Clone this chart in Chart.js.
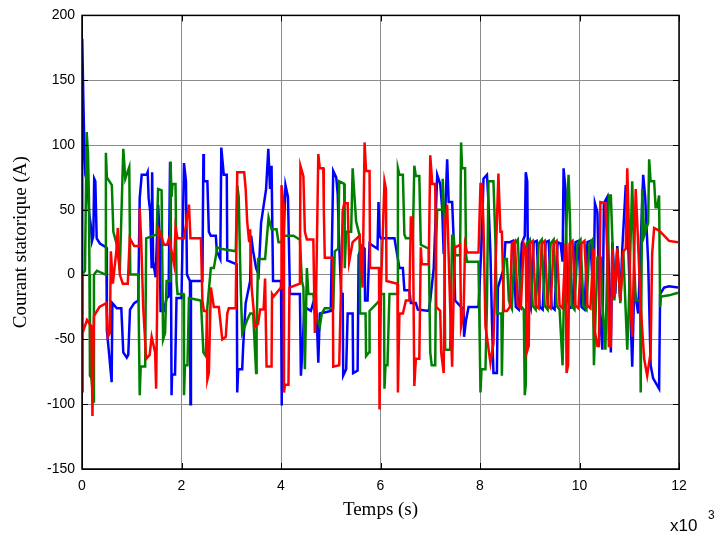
<!DOCTYPE html>
<html>
<head>
<meta charset="utf-8">
<script src="https://cdn.jsdelivr.net/npm/chart.js@4.4.1/dist/chart.umd.min.js"></script>
<style>
    html, body { margin: 0; padding: 0; background: #fff; }
    #wrap { width: 723px; height: 539px; }
</style>
</head>
<body>
<div id="wrap"><canvas id="chart" width="723" height="539"></canvas></div>
<script>
// time axis in seconds, shown as x10^3
const xTicks = [0, 2000, 4000, 6000, 8000, 10000, 12000];
const yTicks = [-150, -100, -50, 0, 50, 100, 150, 200];

// phase currents (A)
const blueTime = [0, 5, 27, 47, 67, 107, 147, 174, 201, 228, 245, 268, 295, 360, 490, 500, 549, 596, 610, 700, 790, 830, 900, 930, 965, 1050, 1130, 1160, 1200, 1300, 1320, 1340, 1370, 1400, 1410, 1430, 1480, 1530, 1560, 1580, 1650, 1700, 1740, 1770, 1780, 1800, 1810, 1870, 1900, 2000, 2050, 2090, 2110, 2170, 2180, 2190, 2420, 2440, 2450, 2520, 2550, 2590, 2690, 2710, 2780, 2800, 2850, 2910, 2920, 3110, 3120, 3140, 3220, 3240, 3290, 3380, 3400, 3440, 3500, 3550, 3600, 3700, 3745, 3780, 3810, 3840, 4000, 4010, 4020, 4090, 4140, 4180, 4380, 4400, 4430, 4470, 4600, 4700, 4750, 4780, 5000, 5050, 5110, 5140, 5160, 5210, 5240, 5250, 5310, 5340, 5440, 5450, 5540, 5560, 5620, 5680, 5690, 5740, 5780, 5940, 5960, 5980, 6010, 6280, 6380, 6450, 6480, 6580, 6610, 6710, 6750, 6970, 7000, 7070, 7140, 7200, 7240, 7270, 7340, 7370, 7440, 7470, 7500, 7670, 7680, 7720, 7770, 7970, 8040, 8070, 8140, 8170, 8210, 8240, 8270, 8340, 8360, 8480, 8510, 8600, 8660, 8720, 8780, 8840, 8900, 8920, 8950, 8970, 9020, 9080, 9140, 9200, 9260, 9320, 9380, 9440, 9500, 9560, 9620, 9660, 9680, 9720, 9750, 9800, 9860, 9920, 9980, 10040, 10100, 10160, 10220, 10280, 10310, 10360, 10400, 10460, 10490, 10560, 10600, 10630, 10660, 10720, 10760, 10820, 10860, 10930, 10960, 11060, 11100, 11180, 11280, 11320, 11380, 11430, 11480, 11600, 11620, 11700, 11800, 11980];
const blueCurrent = [0, 182, 135, 99, 77, 72, 46, 39, 26, 30, 74, 72, 28, 24, 21, -43, -63, -83, -22, -26, -26, -60, -64, -62, -27, -22, -20, 59, 77, 77, 79, 59, 49, 5, 79, 10, -2, 54, 30, -28, -28, -18, -17, 87, 80, -93, -77, -77, -18, -18, 86, 72, 0, -5, -100, -5, -5, 93, 72, 72, 33, 30, 30, 18, 12, 98, 77, 77, 11, 8, -91, -73, -73, -55, -22, -5, 30, 18, 5, 0, 40, 66, 97, 66, 84, -5, -5, -101, -10, 69, 60, -15, -15, -78, -59, -25, -28, -15, -68, -30, -28, 80, 75, 62, 33, -15, -15, -78, -73, -30, -30, -76, -74, 15, 22, 20, -20, -20, 24, 20, 56, 30, 28, 28, 5, 5, -12, -12, -22, -22, -27, -28, -20, 5, 77, 70, 51, 16, 89, 56, 56, 28, -20, -27, -48, -35, -25, -25, 31, 74, 77, 56, 16, -35, -76, -76, -10, 5, 25, 25, 26, -25, -27, 24, 30, 79, 72, -20, -26, 25, 26, -25, -27, 25, 26, -25, -27, 25, 24, 10, 82, 65, -15, -26, -25, 25, 26, -25, -27, 25, 26, -20, 55, 48, -25, -58, 55, 60, -20, -60, 25, -15, 22, -20, 20, 69, 46, -71, -10, -30, 77, 60, 10, -70, -80, -88, -15, -10, -9, -10];

const greenTime = [0, 60, 94, 120, 140, 150, 160, 190, 228, 240, 300, 470, 480, 500, 600, 630, 700, 760, 830, 870, 950, 970, 1130, 1160, 1180, 1270, 1290, 1500, 1530, 1600, 1630, 1670, 1700, 1770, 1780, 1800, 1820, 1880, 1900, 1920, 2040, 2050, 2070, 2120, 2150, 2390, 2440, 2490, 2520, 2590, 2650, 2720, 2790, 3090, 3120, 3150, 3190, 3220, 3320, 3380, 3440, 3500, 3510, 3540, 3680, 3750, 3810, 3910, 3950, 4010, 4050, 4250, 4380, 4420, 4450, 4480, 4520, 4550, 4650, 4680, 4780, 4820, 4880, 5050, 5080, 5150, 5170, 5270, 5280, 5310, 5410, 5440, 5510, 5580, 5590, 5700, 5710, 5770, 5780, 5980, 6010, 6070, 6080, 6100, 6140, 6180, 6340, 6350, 6380, 6450, 6480, 6510, 6650, 6680, 6710, 6780, 6810, 6970, 7000, 7030, 7100, 7120, 7140, 7240, 7250, 7280, 7300, 7400, 7440, 7470, 7500, 7600, 7620, 7640, 7700, 7720, 7740, 7970, 8010, 8030, 8110, 8140, 8170, 8270, 8310, 8340, 8430, 8440, 8480, 8540, 8580, 8640, 8700, 8760, 8820, 8880, 8900, 8920, 8940, 9000, 9060, 9120, 9180, 9240, 9300, 9360, 9420, 9480, 9540, 9600, 9660, 9680, 9720, 9760, 9780, 9810, 9840, 9900, 9960, 10020, 10080, 10140, 10200, 10260, 10290, 10360, 10430, 10460, 10520, 10590, 10630, 10660, 10700, 10760, 10820, 10880, 10960, 10990, 11060, 11100, 11130, 11220, 11230, 11260, 11300, 11380, 11400, 11430, 11500, 11530, 11560, 11600, 11620, 11640, 11800, 11980];
const greenCurrent = [0, 3, 110, 94, 59, 0, -78, -80, -98, 0, 3, 0, 94, 75, 69, 33, 23, 3, 97, 74, 83, 0, 0, -93, -71, -71, 28, 31, 66, 65, -50, -45, -5, -5, 87, 60, 70, 70, -5, -15, -15, -93, -70, -70, -18, -20, -60, -63, -25, 5, 5, 21, 20, 18, 69, 60, -10, -45, -35, -30, -30, -76, -40, 12, 12, 44, 35, 35, 25, 25, 30, 30, 27, -5, -10, -73, 5, -15, -15, -30, -40, -30, -26, -26, 18, 20, 72, 70, 5, 33, 33, 82, 41, 30, -30, -30, -63, -60, -28, -20, -15, -15, -88, -70, -70, -15, -15, 82, 77, 77, 31, 28, 28, 84, 76, 76, 23, 20, -60, -70, -70, 26, 50, 50, 74, 40, -58, -58, 30, 30, 15, 15, 102, 82, 82, 15, 10, 10, -91, -73, -73, -22, 72, 72, 26, -30, -30, -78, 12, 12, -20, -26, 24, 27, -24, -27, -93, -85, 24, 27, -24, -27, 24, 27, -24, -27, 24, 27, -24, -27, -70, -30, 24, 60, 77, 40, -24, -27, 24, 27, -24, -27, 24, 27, -70, 13, 13, -22, -58, 61, 61, 28, -20, 20, -22, 18, -58, -25, 72, 8, -20, -20, -91, 66, 30, 40, 89, 72, 72, 52, 52, 61, -25, -17, -16, -14];

const redTime = [0, 5, 20, 100, 190, 210, 240, 350, 490, 520, 560, 580, 620, 690, 720, 760, 820, 920, 960, 1050, 1150, 1160, 1190, 1230, 1290, 1360, 1400, 1470, 1490, 1530, 1590, 1650, 1710, 1750, 1850, 1880, 1920, 2050, 2150, 2180, 2390, 2420, 2450, 2510, 2520, 2550, 2590, 2650, 2750, 2820, 2890, 2920, 2950, 3090, 3120, 3260, 3290, 3320, 3360, 3380, 3410, 3480, 3540, 3580, 3650, 3680, 3710, 3810, 3820, 3850, 4000, 4010, 4050, 4060, 4080, 4150, 4170, 4380, 4390, 4450, 4480, 4520, 4650, 4680, 4700, 4750, 4780, 4850, 4860, 4880, 5040, 5050, 5170, 5210, 5240, 5270, 5340, 5370, 5440, 5580, 5640, 5680, 5710, 5780, 5790, 5970, 5980, 6010, 6080, 6110, 6120, 6340, 6350, 6380, 6450, 6510, 6580, 6610, 6650, 6680, 6710, 6780, 6810, 6830, 6970, 7000, 7040, 7100, 7120, 7200, 7220, 7270, 7300, 7340, 7400, 7440, 7470, 7500, 7600, 7620, 7670, 7700, 7740, 7970, 8010, 8040, 8070, 8110, 8210, 8270, 8310, 8370, 8410, 8440, 8480, 8540, 8600, 8640, 8700, 8760, 8820, 8880, 8920, 8940, 8980, 9000, 9060, 9120, 9180, 9240, 9300, 9360, 9420, 9480, 9540, 9600, 9660, 9720, 9740, 9770, 9800, 9860, 9920, 9980, 10040, 10100, 10160, 10220, 10280, 10290, 10360, 10390, 10420, 10520, 10560, 10590, 10630, 10660, 10700, 10760, 10820, 10880, 10930, 10960, 10990, 11030, 11060, 11130, 11160, 11230, 11300, 11360, 11430, 11460, 11500, 11600, 11700, 11800, 11980];
const redCurrent = [0, -91, -45, -35, -40, -109, -32, -25, -22, -48, -45, 18, -7, 18, 36, 0, -7, -7, 28, 22, 22, 51, 26, -25, -65, -62, -48, -60, -88, 36, 30, 23, 23, 28, 8, 36, 28, 28, 54, 28, 28, -20, -28, -28, -81, -76, -10, -25, -25, -50, -48, -30, -26, -26, 79, 79, 66, 41, 25, 35, -10, -40, -38, -27, -27, -3, -71, -71, -15, -17, -10, 69, 55, -91, -85, -85, -10, -7, 84, 76, 33, 27, 27, -45, -30, 93, 82, 82, 51, 13, 13, -71, -70, -5, 49, 55, 55, 10, 25, 30, -10, 102, 80, 80, 5, 5, -104, -10, 72, 66, -5, -7, -91, -30, -30, -20, -20, 44, 44, -86, -65, -65, 21, 8, 8, 92, 70, 70, -25, -28, -60, -76, 41, 54, -25, -71, -15, 21, 23, -40, -30, 23, 17, 17, 70, 70, 38, -40, -68, -53, 5, 78, 33, 33, -28, -28, -25, 24, 26, -24, -26, 24, 20, -60, -55, 24, 26, -24, -26, 24, 26, -24, -26, 24, 26, -24, -26, 24, -76, -70, 24, 26, -24, -26, 24, 26, -24, -26, 20, -40, -55, -55, 56, 55, 16, -55, -55, 20, -18, 20, -20, 18, 20, 82, 41, -25, -48, 66, 41, -25, -65, -78, -60, 16, 36, 34, 30, 26, 25];

function toPoints(times, values) {
    return times.map((t, i) => ({ x: t, y: values[i] }));
}

function series(label, color, times, values) {
    return {
        label: label,
        data: toPoints(times, values),
        borderColor: color,
        backgroundColor: color,
        borderWidth: 2.5,
        pointRadius: 0,
        tension: 0,
        fill: false
    };
}

// black box, inward ticks and the x10^3 multiplier, like the original figure
const frame = {
    id: 'frame',
    afterDraw(chart) {
        const {ctx, chartArea: a, scales: {x, y}} = chart;
        ctx.save();
        ctx.strokeStyle = '#000';
        ctx.lineWidth = 1;
        ctx.beginPath();
        xTicks.forEach(v => {
            const px = Math.round(x.getPixelForValue(v)) + 0.5;
            ctx.moveTo(px, a.bottom); ctx.lineTo(px, a.bottom - 6);
            ctx.moveTo(px, a.top); ctx.lineTo(px, a.top + 6);
        });
        yTicks.forEach(v => {
            const py = Math.round(y.getPixelForValue(v)) + 0.5;
            ctx.moveTo(a.left, py); ctx.lineTo(a.left + 6, py);
            ctx.moveTo(a.right, py); ctx.lineTo(a.right - 6, py);
        });
        ctx.stroke();
        ctx.lineWidth = 1.5;
        ctx.strokeRect(a.left, a.top, a.right - a.left, a.bottom - a.top);

        ctx.fillStyle = '#000';
        ctx.textBaseline = 'alphabetic';
        ctx.font = '17px Arial, "Liberation Sans", sans-serif';
        ctx.fillText('x10', 670, 531);
        ctx.font = '12px Arial, "Liberation Sans", sans-serif';
        ctx.fillText('3', 708, 519);
        ctx.restore();
    }
};

new Chart(document.getElementById('chart'), {
    type: 'line',
    data: {
        datasets: [
            series('ia', '#ff0000', redTime, redCurrent),
            series('ib', '#008000', greenTime, greenCurrent),
            series('ic', '#0000ff', blueTime, blueCurrent)
        ]
    },
    plugins: [frame],
    options: {
        responsive: false,
        animation: false,
        layout: { padding: { top: 15, right: 44, left: 0, bottom: 0 } },
        plugins: {
            legend: { display: false },
            tooltip: { enabled: false }
        },
        scales: {
            x: {
                type: 'linear',
                min: 0,
                max: 12000,
                afterFit: s => { s.height = 70; },
                afterBuildTicks: s => { s.ticks = xTicks.map(v => ({ value: v })); },
                ticks: {
                    color: '#000',
                    padding: 9,
                    maxRotation: 0,
                    font: { family: 'Arial, "Liberation Sans", sans-serif', size: 14 },
                    callback: v => v / 1000
                },
                grid: { color: '#8c8c8c', lineWidth: 1, drawTicks: false },
                border: { display: true, color: '#000' },
                title: {
                    display: true,
                    text: 'Temps (s)',
                    color: '#000',
                    font: { family: '"Liberation Serif", "Times New Roman", serif', size: 19 },
                    padding: { top: 0, bottom: 18 }
                }
            },
            y: {
                min: -150,
                max: 200,
                afterFit: s => { s.width = 82; },
                afterBuildTicks: s => { s.ticks = yTicks.map(v => ({ value: v })); },
                ticks: {
                    color: '#000',
                    padding: 7,
                    font: { family: 'Arial, "Liberation Sans", sans-serif', size: 14 }
                },
                grid: { color: '#8c8c8c', lineWidth: 1, drawTicks: false },
                border: { display: true, color: '#000' },
                title: {
                    display: true,
                    text: 'Courant statorique (A)',
                    color: '#000',
                    font: { family: '"Liberation Serif", "Times New Roman", serif', size: 19 },
                    padding: { top: 10, bottom: 0 }
                }
            }
        }
    }
});
</script>
</body>
</html>
